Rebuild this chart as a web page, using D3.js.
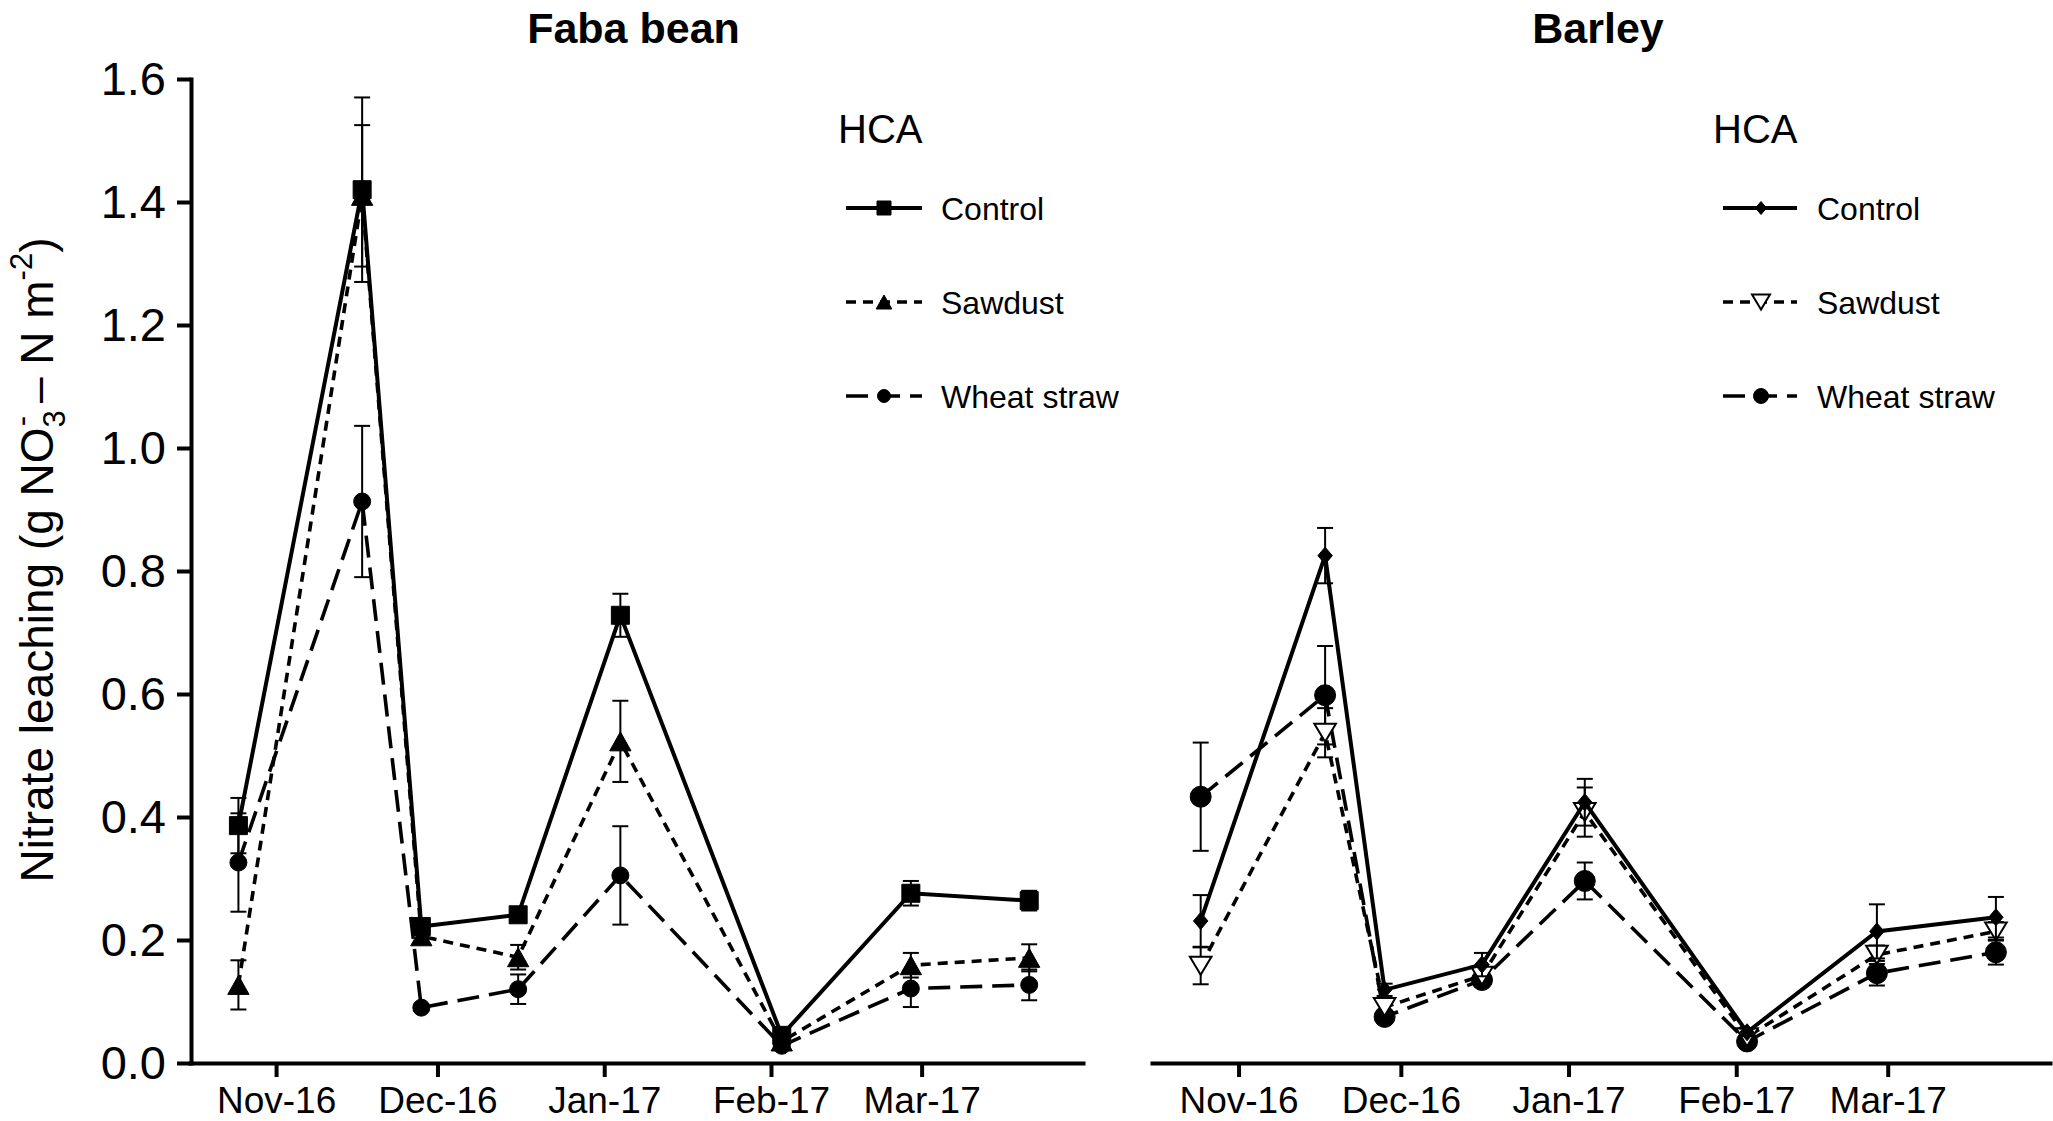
<!DOCTYPE html>
<html>
<head>
<meta charset="utf-8">
<script src="https://cdn.jsdelivr.net/npm/d3@7"></script>
<style>
  body { margin: 0; background: #fff; }
  svg { display: block; font-family: "Liberation Sans", Arial, sans-serif; }
</style>
</head>
<body>
<div id="chart"></div>
<script>
// Sampling dates (same for both crops)
const dates = ["2016-10-25", "2016-11-17", "2016-11-28", "2016-12-16",
               "2017-01-04", "2017-02-03", "2017-02-27", "2017-03-21"];

// Faba bean
const fabaControl    = [0.386, 1.420, 0.222, 0.241, 0.728, 0.045, 0.276, 0.264];
const fabaControlErr = [0.045, 0.150, 0.010, 0.008, 0.035, 0.008, 0.020, 0.016];
const fabaSawdust    = [0.127, 1.410, 0.206, 0.172, 0.523, 0.035, 0.159, 0.171];
const fabaSawdustErr = [0.040, 0.115, 0.010, 0.020, 0.066, 0.006, 0.020, 0.022];
const fabaWheat      = [0.326, 0.913, 0.090, 0.120, 0.305, 0.028, 0.121, 0.127];
const fabaWheatErr   = [0.080, 0.123, 0.005, 0.024, 0.080, 0.005, 0.030, 0.025];

// Barley
const barleyControl    = [0.231, 0.825, 0.119, 0.160, 0.424, 0.050, 0.214, 0.237];
const barleyControlErr = [0.042, 0.045, 0.010, 0.019, 0.038, 0.006, 0.044, 0.033];
const barleySawdust    = [0.158, 0.537, 0.091, 0.142, 0.408, 0.042, 0.176, 0.214];
const barleySawdustErr = [0.030, 0.040, 0.010, 0.010, 0.040, 0.005, 0.015, 0.015];
const barleyWheat      = [0.433, 0.598, 0.075, 0.135, 0.296, 0.035, 0.146, 0.180];
const barleyWheatErr   = [0.088, 0.080, 0.008, 0.008, 0.030, 0.005, 0.020, 0.020];

// Axes
const yTicks = [0, 0.2, 0.4, 0.6, 0.8, 1.0, 1.2, 1.4, 1.6];
const monthTicks = ["2016-11-01", "2016-12-01", "2017-01-01", "2017-02-01", "2017-03-01"];
const xDomain = ["2016-10-16", "2017-03-31"];
const seriesNames = ["Control", "Sawdust", "Wheat straw"];

const parse = d3.timeParse("%Y-%m-%d");
const W = 2053, H = 1121;
const yTop = 79, yBottom = 1063;

const svg = d3.select("#chart").append("svg")
    .attr("width", W)
    .attr("height", H);

const y = d3.scaleLinear().domain([0, 1.6]).range([yBottom, yTop]);

// marker shapes, centred on 0,0
function marker(type, s) {
    const h = s / 2;
    if (type === "square") return `M${-h},${-h}h${s}v${s}h${-s}Z`;
    if (type === "triUp") return `M0,${-h}L${h * 1.12},${h}L${-h * 1.12},${h}Z`;
    if (type === "triDown") return `M${-h * 1.2},${-h}L${h * 1.2},${-h}L0,${h}Z`;
    if (type === "diamond") return `M0,${-h}L${h * 0.85},0L0,${h}L${-h * 0.85},0Z`;
    return `M${h},0A${h},${h} 0 1,1 ${-h},0A${h},${h} 0 1,1 ${h},0Z`;
}

const lineStyles = [null, "10,7", "22,10"];

const panels = [
    {
        title: "Faba bean", x0: 190, x1: 1083, yAxis: true,
        vals: [fabaControl, fabaSawdust, fabaWheat],
        errs: [fabaControlErr, fabaSawdustErr, fabaWheatErr],
        markers: ["square", "triUp", "circle"],
        sizes: [18, 19, 17],
        legendSizes: [14, 14, 13],
        fills: ["#000", "#000", "#000"],
        legend: { hx: 838, lx0: 846, lx1: 922, sx: 884, tx: 941 }
    },
    {
        title: "Barley", x0: 1152, x1: 2050, yAxis: false,
        vals: [barleyControl, barleySawdust, barleyWheat],
        errs: [barleyControlErr, barleySawdustErr, barleyWheatErr],
        markers: ["diamond", "triDown", "circle"],
        sizes: [17, 18, 21],
        legendSizes: [13, 15, 15],
        fills: ["#000", "#fff", "#000"],
        legend: { hx: 1713, lx0: 1723, lx1: 1797, sx: 1761, tx: 1817 }
    }
];

const legendRows = [208, 302, 396];

panels.forEach(p => {
    const x = d3.scaleTime()
        .domain(xDomain.map(parse))
        .range([p.x0, p.x1]);

    const g = svg.append("g");

    // title
    g.append("text")
        .attr("x", (p.x0 + p.x1) / 2 - 3)
        .attr("y", 43)
        .attr("text-anchor", "middle")
        .attr("font-size", 43)
        .attr("font-weight", "bold")
        .text(p.title);

    // x axis
    const xa = g.append("g")
        .attr("transform", `translate(0,${yBottom})`)
        .call(d3.axisBottom(x)
            .tickValues(monthTicks.map(parse))
            .tickFormat(d3.timeFormat("%b-%y"))
            .tickSizeInner(14)
            .tickSizeOuter(0)
            .tickPadding(10));
    xa.select(".domain").attr("stroke-width", 4).attr("stroke-linecap", "square");
    xa.selectAll(".tick line").attr("stroke-width", 4);
    xa.selectAll(".tick text").attr("font-size", 37).attr("font-family", null).attr("fill", "#000");

    // y axis (left panel only)
    if (p.yAxis) {
        const ya = g.append("g")
            .attr("transform", `translate(${p.x0 + 1},0)`)
            .call(d3.axisLeft(y)
                .tickValues(yTicks)
                .tickFormat(d3.format(".1f"))
                .tickSizeInner(14)
                .tickSizeOuter(0)
                .tickPadding(11));
        ya.select(".domain").attr("stroke-width", 4).attr("stroke-linecap", "square");
        ya.selectAll(".tick line").attr("stroke-width", 4);
        ya.selectAll(".tick text").attr("font-size", 47).attr("font-family", null).attr("fill", "#000");
    }

    // series, drawn back to front
    [2, 1, 0].forEach(i => {
        const pts = dates.map((d, k) => ({ date: parse(d), v: p.vals[i][k], e: p.errs[i][k] }));
        const sg = g.append("g");

        sg.append("path")
            .datum(pts)
            .attr("fill", "none")
            .attr("stroke", "#000")
            .attr("stroke-width", i === 0 ? 4 : 3.6)
            .attr("stroke-dasharray", lineStyles[i])
            .attr("d", d3.line().x(d => x(d.date)).y(d => y(d.v)));

        // error bars
        const eb = sg.selectAll(".err").data(pts).enter().append("g")
            .attr("stroke", "#000").attr("stroke-width", 2);
        eb.append("line")
            .attr("x1", d => x(d.date)).attr("x2", d => x(d.date))
            .attr("y1", d => y(d.v + d.e)).attr("y2", d => y(d.v - d.e));
        eb.append("line")
            .attr("x1", d => x(d.date) - 8).attr("x2", d => x(d.date) + 8)
            .attr("y1", d => y(d.v + d.e)).attr("y2", d => y(d.v + d.e));
        eb.append("line")
            .attr("x1", d => x(d.date) - 8).attr("x2", d => x(d.date) + 8)
            .attr("y1", d => y(d.v - d.e)).attr("y2", d => y(d.v - d.e));

        sg.selectAll(".mk").data(pts).enter().append("path")
            .attr("transform", d => `translate(${x(d.date)},${y(d.v)})`)
            .attr("d", marker(p.markers[i], p.sizes[i]))
            .attr("fill", p.fills[i])
            .attr("stroke", "#000")
            .attr("stroke-width", p.fills[i] === "#fff" ? 2 : 1);
    });

    // legend
    const L = p.legend;
    g.append("text")
        .attr("x", L.hx).attr("y", 143)
        .attr("font-size", 40)
        .text("HCA");

    seriesNames.forEach((name, i) => {
        const ry = legendRows[i];
        g.append("line")
            .attr("x1", L.lx0).attr("x2", L.lx1)
            .attr("y1", ry).attr("y2", ry)
            .attr("stroke", "#000")
            .attr("stroke-width", i === 0 ? 4 : 3.6)
            .attr("stroke-dasharray", lineStyles[i]);
        g.append("path")
            .attr("transform", `translate(${L.sx},${ry})`)
            .attr("d", marker(p.markers[i], p.legendSizes[i]))
            .attr("fill", p.fills[i])
            .attr("stroke", "#000")
            .attr("stroke-width", p.fills[i] === "#fff" ? 2 : 1);
        g.append("text")
            .attr("x", L.tx).attr("y", ry + 11.5)
            .attr("font-size", 32)
            .text(name);
    });
});

// y axis label with sub/superscripts
const yl = svg.append("text")
    .attr("transform", "translate(53,560) rotate(-90)")
    .attr("text-anchor", "middle")
    .attr("font-size", 46);
yl.append("tspan").text("Nitrate leaching (g NO");
yl.append("tspan").attr("font-size", 31).attr("dy", 12).text("3");
yl.append("tspan").attr("font-size", 31).attr("dx", -16).attr("dy", -33).text("-");
yl.append("tspan").attr("dy", 21).text(" \u2013 N m");
yl.append("tspan").attr("font-size", 31).attr("dy", -21).text("-2");
yl.append("tspan").attr("dy", 21).text(")");
</script>
</body>
</html>
